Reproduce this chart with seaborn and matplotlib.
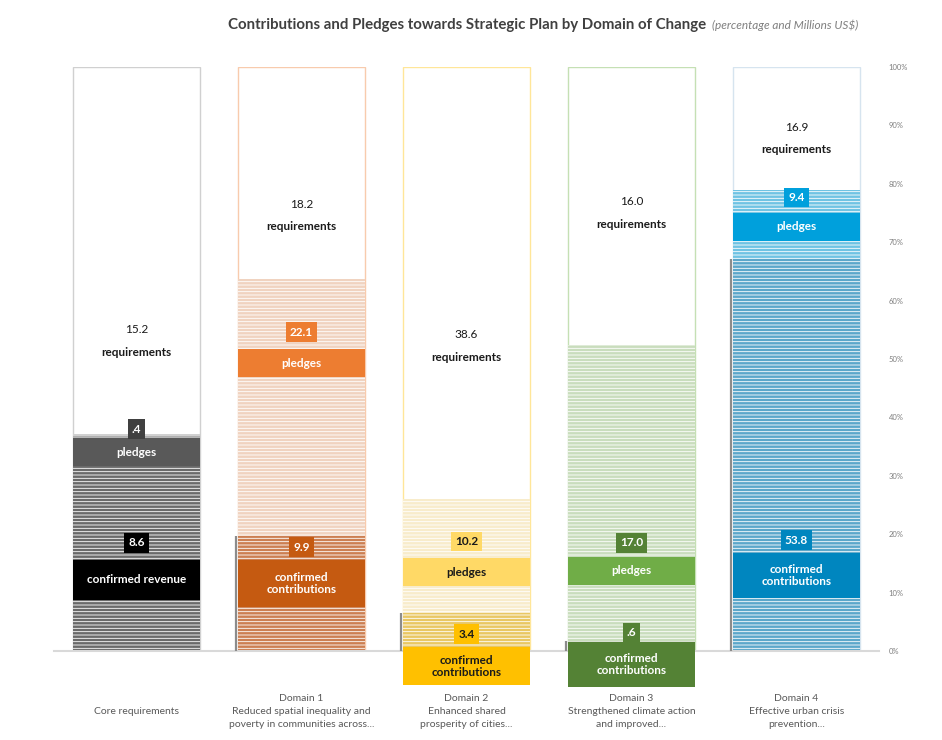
import numpy as np
import pandas as pd
import seaborn as sns
import matplotlib.pyplot as plt
from matplotlib.patches import Rectangle

# data (millions US$)
domains = ['Core', 'Domain 1', 'Domain 2', 'Domain 3', 'Domain 4']
tick_labels = ['\nCore requirements',
               'Domain 1\nReduced spatial inequality and\npoverty in communities across...',
               'Domain 2\nEnhanced shared\nprosperity of cities...',
               'Domain 3\nStrengthened climate action\nand improved...',
               'Domain 4\nEffective urban crisis\nprevention...']
confirmed = [8.6, 9.9, 3.4, 0.6, 53.8]
pledges = [0.4, 22.1, 10.2, 17.0, 9.4]
requirements = [15.2, 18.2, 38.6, 16.0, 16.9]
confirmed_names = ['confirmed revenue', 'confirmed\ncontributions', 'confirmed\ncontributions',
                   'confirmed\ncontributions', 'confirmed\ncontributions']

# colours
conf_col = ['#6a6a6a', '#e07a3e', '#ffd24d', '#5b8f3a', '#4aaedc']
pledge_col = ['#b0b0b0', '#f8d2b8', '#fff0c4', '#c8e2b8', '#5ccbf6']
req_edge = ['#d0d0d0', '#f8cbad', '#ffe699', '#c5e0b4', '#d6e4ef']
pband_col = ['#595959', '#ed7d31', '#ffd966', '#70ad47', '#00a0dc']
cband_col = ['#000000', '#c55a11', '#ffc000', '#548235', '#0086bf']
pval_col = ['#404040', '#ed7d31', '#ffd966', '#548235', '#00a0dc']
cval_col = ['#000000', '#c55a11', '#ffc000', '#548235', '#0086bf']
txt_col = ['white', 'white', '#1a1a1a', 'white', 'white']

# label layout (percent of bar height)
pband_y = [34.0, 49.3, 13.5, 13.7, 72.6]
cband_y = [12.2, 11.6, -2.6, -2.3, 13.0]
cband_h = [6.9, 8.0, 6.6, 7.8, 7.7]
pval_y = [38.0, 54.6, 18.7, 18.5, 77.6]
cval_y = [18.5, 17.8, 2.9, 3.2, 19.0]
req_y = [52.9, 74.4, 52.1, 74.9, 87.6]

sns.set_style('white')
plt.rcParams['font.family'] = ['Lato', 'DejaVu Sans']
plt.rcParams['hatch.linewidth'] = 0.6

df = pd.DataFrame({'domain': domains, 'confirmed': confirmed,
                   'pledges': pledges, 'requirements': requirements})
total = df[['confirmed', 'pledges', 'requirements']].sum(axis=1)
df['conf_pct'] = df['confirmed'] / total * 100
df['pledge_cum'] = (df['confirmed'] + df['pledges']) / total * 100
df['full'] = 100.0

fig = plt.figure(figsize=(9.42, 7.4), dpi=100)
ax = fig.add_axes([0.0573, 0.1203, 0.8758, 0.7892])
W = 0.77


def layer(col, face, edge, hatch, lw):
    n0 = len(ax.patches)
    sns.barplot(data=df, x='domain', y=col, hue='domain', palette=dict(zip(domains, face)),
                dodge=False, legend=False, width=W, errorbar=None, ax=ax)
    for k, p in enumerate(ax.patches[n0:]):
        p.set_edgecolor(edge[k])
        p.set_linewidth(lw)
        if hatch:
            p.set_hatch(hatch)


layer('full', ['white'] * 5, req_edge, None, 1.0)
layer('pledge_cum', pledge_col, ['white'] * 5, '-----', 0)
layer('conf_pct', conf_col, ['white'] * 5, '-----', 0)

# thin shadow on the left of confirmed part
ax.vlines(np.arange(1, 5) - W / 2 - 0.012, 0, df['conf_pct'][1:], color='#8c8c8c', lw=1.6, zorder=3)

fmt = lambda v: f'{v:.1f}'.lstrip('0') if v < 1 else f'{v:.1f}'
for i in range(5):
    # requirements text
    ax.text(i, req_y[i] + 2.1, fmt(requirements[i]), ha='center', va='center', fontsize=8.5, color='#1a1a1a')
    ax.text(i, req_y[i] - 1.8, 'requirements', ha='center', va='center', fontsize=8.5,
            fontweight='bold', color='#1a1a1a')
    # pledges band
    ax.add_patch(Rectangle((i - W / 2, pband_y[i] - 2.4), W, 4.8, facecolor=pband_col[i],
                           edgecolor='none', zorder=5, clip_on=False))
    ax.text(i, pband_y[i], 'pledges', ha='center', va='center', fontsize=8.5,
            fontweight='bold', color=txt_col[i], zorder=6)
    ax.text(i, pval_y[i], fmt(pledges[i]), ha='center', va='center', fontsize=8.5, fontweight='bold',
            color=txt_col[i], zorder=6,
            bbox=dict(boxstyle='square,pad=0.35', fc=pval_col[i], ec='none'))
    # confirmed band
    h = cband_h[i]
    ax.add_patch(Rectangle((i - W / 2, cband_y[i] - h / 2), W, h, facecolor=cband_col[i],
                           edgecolor='none', zorder=5, clip_on=False))
    ax.text(i, cband_y[i], confirmed_names[i], ha='center', va='center', fontsize=8.5,
            fontweight='bold', color=txt_col[i], zorder=6, linespacing=1.1)
    ax.text(i, cval_y[i], fmt(confirmed[i]), ha='center', va='center', fontsize=8.5, fontweight='bold',
            color=txt_col[i], zorder=6,
            bbox=dict(boxstyle='square,pad=0.35', fc=cval_col[i], ec='none'))

ax.set_xlim(-0.5, 4.5)
ax.set_ylim(0, 100)
ax.set_xlabel('')
ax.set_ylabel('')
ax.set_xticks(range(5))
ax.set_xticklabels(tick_labels, fontsize=7.5, color='#595959', linespacing=1.55)
ax.tick_params(axis='x', length=0, pad=31)
ax.yaxis.tick_right()
ax.set_yticks(range(0, 101, 10))
ax.set_yticklabels([f'{v}%' for v in range(0, 101, 10)])
ax.tick_params(axis='y', length=0, labelsize=5.5, labelcolor='#7f7f7f', pad=7)
for s in ['top', 'left', 'right']:
    ax.spines[s].set_visible(False)
ax.spines['bottom'].set_color('#d9d9d9')
ax.spines['bottom'].set_linewidth(1.5)
ax.spines['bottom'].set_zorder(1)

t1 = fig.text(228 / 942, 1 - 25 / 740, 'Contributions and Pledges towards Strategic Plan by Domain of Change',
              ha='left', va='center', fontsize=10.8, fontweight='bold', color='#404040')
ax.annotate('(percentage and Millions US$)', xy=(1, 0.5), xycoords=t1, xytext=(4, 0),
            textcoords='offset points', ha='left', va='center', fontsize=8.5,
            style='italic', color='#7f7f7f')

fig.savefig('out.png', dpi=100)
